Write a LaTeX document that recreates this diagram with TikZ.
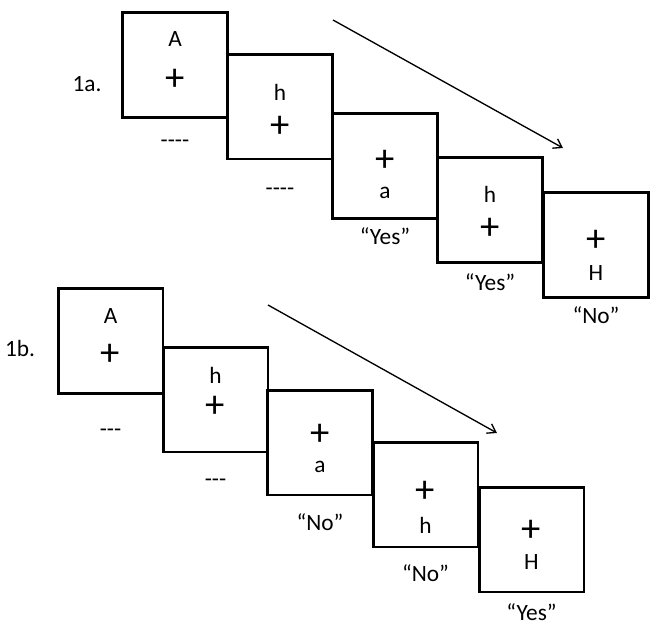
\documentclass[tikz,border=0pt]{standalone}
\usepackage{fontspec}
\setmainfont{Carlito}
\usepackage{tikz}
\usetikzlibrary{arrows.meta,positioning,calc}

\begin{document}
\begin{tikzpicture}[
    x=0.75pt, y=-0.75pt,
    font=\fontsize{17.5}{20}\selectfont,
    % 刺激框
    trial/.style={rectangle, draw=black, line width=2pt, minimum width=78.5pt, minimum height=78.5pt, inner sep=0pt},
    cue/.style={inner sep=0pt},
    fix/.style={inner sep=0pt, font=\fontsize{29}{30}\selectfont},
    answer/.style={inner sep=0pt},
    tag/.style={inner sep=0pt},
    arrow/.style={-{Straight Barb[length=6pt,width=8pt]}, line width=1pt}
]
\useasboundingbox (0,0) rectangle (657,628);

% 1a 序列
\node[tag] (la) at (87,84) {1a.};
\node[trial] (a1) at (175,65) {};
\node[trial] (a2) at (280,106.5) {};
\node[trial] (a3) at (385,166) {};
\node[trial] (a4) at (490,210) {};
\node[trial] (a5) at (596,245) {};

\node[cue] (a1c) at ($(a1)+(0,-26)$) {A};
\node[fix] (a1f) at ($(a1)+(0,15)$) {+};
\node[answer] (a1r) at ($(a1)+(0,79)$) {-\kern0pt-\kern0pt-\kern0pt-};
\node[cue] (a2c) at ($(a2)+(0,-14.5)$) {h};
\node[fix] (a2f) at ($(a2)+(0,20.5)$) {+};
\node[answer] (a2r) at ($(a2)+(0,85.5)$) {-\kern0pt-\kern0pt-\kern0pt-};
\node[fix] (a3f) at ($(a3)+(0,-5)$) {+};
\node[cue] (a3c) at ($(a3)+(0,27)$) {a};
\node[answer] (a3r) at ($(a3)+(0,70)$) {“Yes”};
\node[cue] (a4c) at ($(a4)+(0,-16)$) {h};
\node[fix] (a4f) at ($(a4)+(0,19)$) {+};
\node[answer] (a4r) at ($(a4)+(0,72)$) {“Yes”};
\node[fix] (a5f) at ($(a5)+(0,-4)$) {+};
\node[cue] (a5c) at ($(a5)+(0,28)$) {H};
\node[answer] (a5r) at ($(a5)+(0,70)$) {“No”};

\coordinate (as) at (333,20);
\coordinate (ae) at (563,148);
\draw[arrow] (as) -- (ae);

% 1b 序列
\node[tag] (lb) at (20,348) {1b.};
\node[trial] (c1) at (110.5,341) {};
\node[trial] (c2) at (215.5,399.5) {};
\node[trial] (c3) at (320,442.5) {};
\node[trial] (c4) at (425.5,494.5) {};
\node[trial] (c5) at (531.5,539.5) {};

\node[cue] (c1c) at ($(c1)+(0,-25)$) {A};
\node[fix] (c1f) at ($(c1)+(0,14)$) {+};
\node[answer] (c1r) at ($(c1)+(0,92)$) {-\kern0pt-\kern0pt-};
\node[cue] (c2c) at ($(c2)+(0,-24.5)$) {h};
\node[fix] (c2f) at ($(c2)+(0,7.5)$) {+};
\node[answer] (c2r) at ($(c2)+(0,83.5)$) {-\kern0pt-\kern0pt-};
\node[fix] (c3f) at ($(c3)+(0,-7.5)$) {+};
\node[cue] (c3c) at ($(c3)+(0,24)$) {a};
\node[answer] (c3r) at ($(c3)+(0,79.5)$) {“No”};
\node[fix] (c4f) at ($(c4)+(0,-2.5)$) {+};
\node[cue] (c4c) at ($(c4)+(0,30.5)$) {h};
\node[answer] (c4r) at ($(c4)+(0,78.5)$) {“No”};
\node[fix] (c5f) at ($(c5)+(0,-8.5)$) {+};
\node[cue] (c5c) at ($(c5)+(0,23)$) {H};
\node[answer] (c5r) at ($(c5)+(0,72.5)$) {“Yes”};

\coordinate (cs) at (268,305);
\coordinate (ce) at (497,433);
\draw[arrow] (cs) -- (ce);

\end{tikzpicture}
\end{document}
